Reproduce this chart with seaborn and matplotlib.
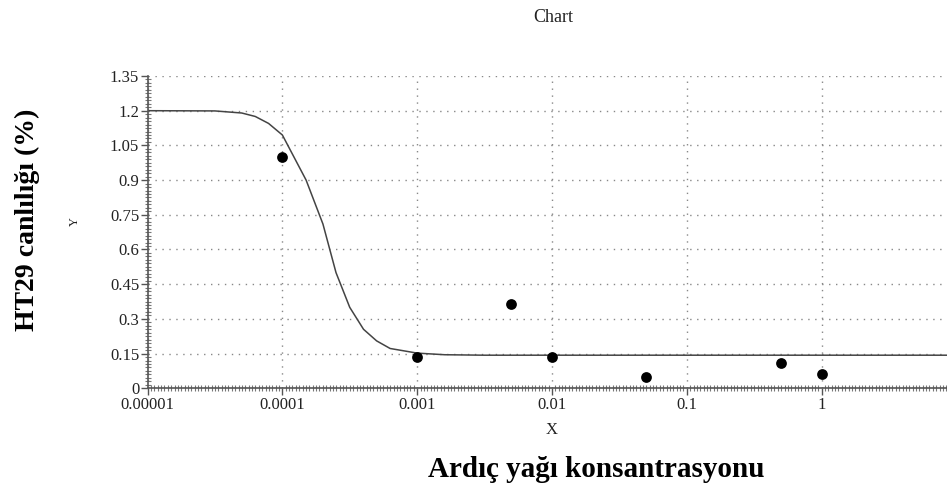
import numpy as np
import pandas as pd
import matplotlib
matplotlib.use("Agg")
import matplotlib.pyplot as plt
import seaborn as sns
from matplotlib.ticker import FixedLocator, FixedFormatter, NullFormatter

# Observed data points
point_x = [0.0001, 0.001, 0.005, 0.01, 0.05, 0.5, 1.0]
point_y = [1.0, 0.136, 0.364, 0.134, 0.048, 0.11, 0.063]

# Fitted curve
curve_x = [1e-5, 3.16e-5, 5.0e-5, 6.3e-5, 7.9e-5, 1.0e-4, 1.5e-4, 2.0e-4,
           2.5e-4, 3.16e-4, 4.0e-4, 5.0e-4, 6.3e-4, 1.0e-3, 1.6e-3, 3.16e-3, 8.5]
curve_y = [1.2, 1.199, 1.19, 1.175, 1.145, 1.095, 0.90, 0.71,
           0.50, 0.35, 0.255, 0.205, 0.172, 0.152, 0.145, 0.143, 0.143]

y_ticks = [0, 0.15, 0.3, 0.45, 0.6, 0.75, 0.9, 1.05, 1.2, 1.35]
y_tick_labels = ["0", "0.15", "0.3", "0.45", "0.6", "0.75", "0.9", "1.05", "1.2", "1.35"]
x_ticks = [0.00001, 0.0001, 0.001, 0.01, 0.1, 1]
x_tick_labels = ["0.00001", "0.0001", "0.001", "0.01", "0.1", "1"]

sns.set_style("white")
plt.rcParams["font.family"] = ["Liberation Serif", "DejaVu Serif"]

fig = plt.figure(figsize=(9.47, 4.90), dpi=100)
ax = fig.add_axes([0.1558, 0.2076, 0.8442, 0.6373])

df_curve = pd.DataFrame({"x": curve_x, "y": curve_y})
df_pts = pd.DataFrame({"x": point_x, "y": point_y})

sns.lineplot(data=df_curve, x="x", y="y", ax=ax, color="#444444", linewidth=1.1,
             estimator=None, sort=False)
sns.scatterplot(data=df_pts, x="x", y="y", ax=ax, color="black", s=60,
                edgecolor="black", linewidth=0, zorder=5)

ax.set_xscale("log")
ax.set_xlim(1e-5, 10 ** 0.93)
ax.set_ylim(0, 1.35)

ax.xaxis.set_major_locator(FixedLocator(x_ticks))
ax.xaxis.set_major_formatter(FixedFormatter(x_tick_labels))
ax.yaxis.set_major_locator(FixedLocator(y_ticks))
ax.yaxis.set_major_formatter(FixedFormatter(y_tick_labels))

# dense ruler-like minor ticks
minor_x = [10 ** (-5 + k / 40) for k in range(0, 40 * 6)]
minor_y = [k * 0.015 for k in range(0, 91)]
ax.xaxis.set_minor_locator(FixedLocator(minor_x))
ax.xaxis.set_minor_formatter(NullFormatter())
ax.yaxis.set_minor_locator(FixedLocator(minor_y))
ax.yaxis.set_minor_formatter(NullFormatter())

ax.tick_params(axis="x", which="both", bottom=True, top=False)
ax.tick_params(axis="y", which="both", left=True, right=False)
ax.tick_params(axis="both", which="major", direction="out", length=5, width=1,
               color="#555555", labelsize=12, labelcolor="#222222", pad=1)
ax.tick_params(axis="both", which="minor", direction="inout", length=4, width=0.8,
               color="#777777")

ax.grid(True, which="major", linestyle=(0, (1, 4)), color="#888888", linewidth=1)
for s in ["top", "right"]:
    ax.spines[s].set_visible(False)
for s in ["left", "bottom"]:
    ax.spines[s].set_color("#555555")
    ax.spines[s].set_linewidth(1.2)

ax.set_xlabel("")
ax.set_ylabel("")

fig.text(0.584, 0.965, "Chart", ha="center", va="center", fontsize=13, color="#222222")
fig.text(0.582, 0.122, "X", ha="center", va="center", fontsize=12, color="#222222")
fig.text(0.079, 0.547, "Y", ha="center", va="center", fontsize=9, rotation=90, color="#222222")
fig.text(0.630, 0.041, "Ardıç yağı konsantrasyonu", ha="center", va="center",
         fontsize=21, fontweight="bold", color="black")
fig.text(0.029, 0.551, "HT29 canlılığı (%)", ha="center", va="center",
         fontsize=20, fontweight="bold", rotation=90, color="black")

fig.savefig("out.png", dpi=100)
